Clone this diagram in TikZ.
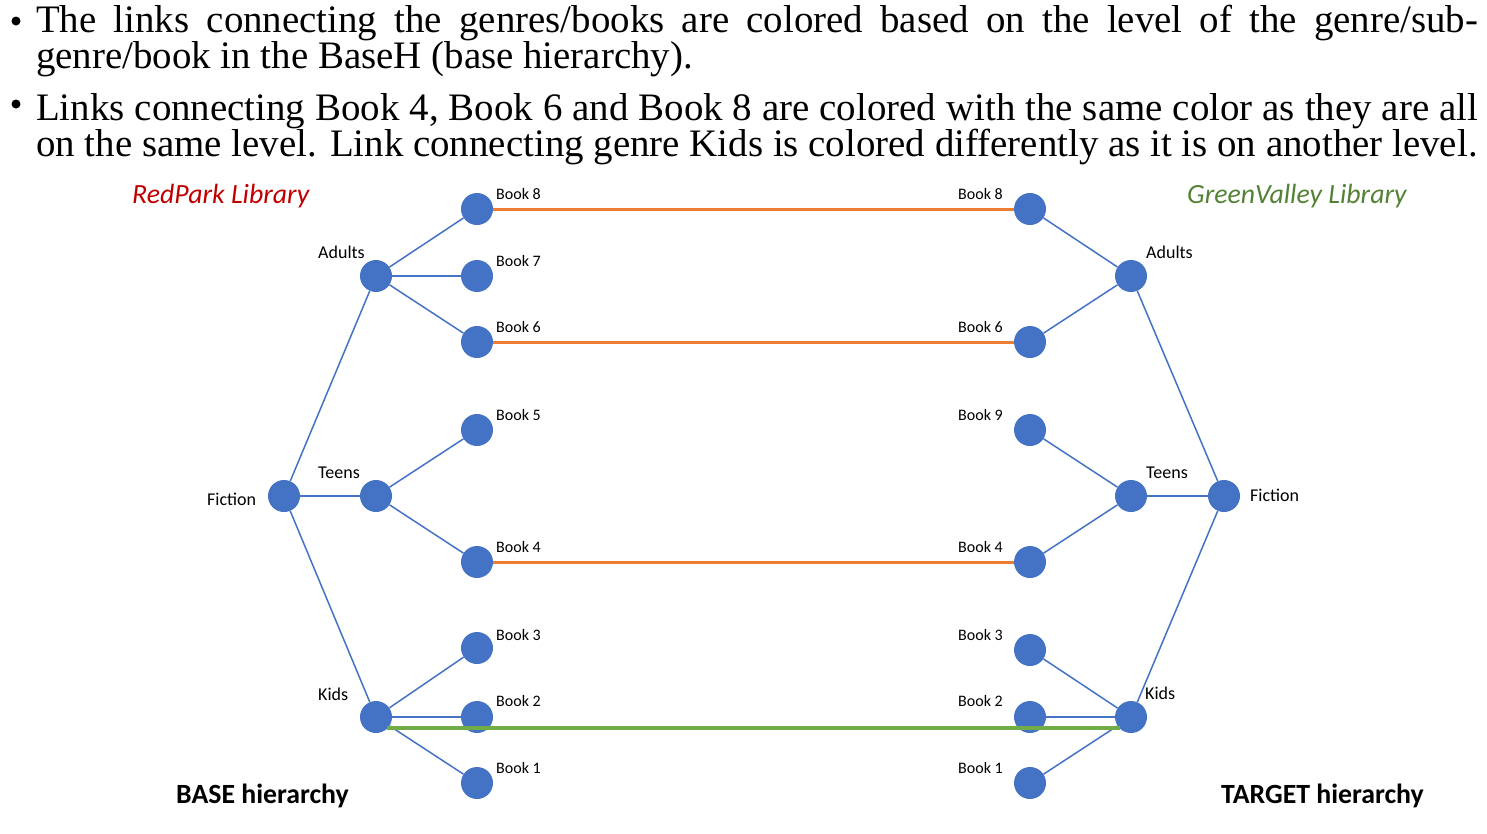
\documentclass[tikz,border=0pt]{standalone}
\usepackage{fontspec}
\setmainfont{Liberation Serif}
\newfontfamily\calibri{Carlito}
\usetikzlibrary{positioning}
\definecolor{nodeblue}{HTML}{4472C4}
\definecolor{linkorange}{HTML}{ED7D31}
\definecolor{linkgreen}{HTML}{70AD47}
\definecolor{redpark}{HTML}{C00000}
\definecolor{greenvalley}{HTML}{548235}

\begin{document}
\begin{tikzpicture}[x=1pt, y=-1pt,
    vert/.style={circle, fill=nodeblue, minimum size=32pt, inner sep=0pt},
    treelink/.style={nodeblue, line width=1.5pt},
    samelvl/.style={linkorange, line width=3pt},
    otherlvl/.style={linkgreen, line width=4pt},
    booklbl/.style={font=\calibri\fontsize{16}{19}\selectfont, inner sep=0pt},
    genrelbl/.style={font=\calibri\fontsize{18}{22}\selectfont, inner sep=0pt},
    libname/.style={font=\calibri\itshape\fontsize{27.8}{32}\selectfont, inner sep=0pt},
    hiername/.style={font=\calibri\bfseries\fontsize{27.8}{32}\selectfont, inner sep=0pt},
    note/.style={font=\fontsize{38.9}{36}\selectfont, inner sep=0pt, align=left, anchor=north west},
    bul/.style={circle, fill=black, minimum size=9pt, inner sep=0pt}]
    \useasboundingbox (0,0) rectangle (1487,833);

    \node[bul] (dot1) at (16,21) {};
    \node[note] (note1) at (36,5.4) {\makebox[1442pt][s]{The links connecting the genres/books are colored based on the level of the genre/sub-}\\genre/book in the BaseH (base hierarchy).};
    \node[bul] (dot2) at (16,104) {};
    \node[note] (note2) at (36,93.4) {\makebox[1442pt][s]{Links connecting Book 4, Book 6 and Book 8 are colored with the same color as they are all}\\on the same level. Link connecting genre Kids is colored differently as it is on another level.};

    \node[libname, text=redpark, anchor=base west] (redlib) at (132,203) {RedPark Library};
    \node[libname, text=greenvalley, anchor=base west] (greenlib) at (1187,203) {GreenValley Library};
    \node[hiername, anchor=base west] (basetxt) at (176,803) {BASE hierarchy};
    \node[hiername, anchor=base west] (targettxt) at (1221,803) {TARGET hierarchy};

    \node[vert] (fictL) at (284,496) {};
    \node[vert] (adultsL) at (376,276) {};
    \node[vert] (teensL) at (376,496) {};
    \node[vert] (kidsL) at (376,717) {};
    \node[vert] (bL8) at (477,209) {};
    \node[vert] (bL7) at (477,276) {};
    \node[vert] (bL6) at (477,342) {};
    \node[vert] (bL5) at (477,430) {};
    \node[vert] (bL4) at (477,562) {};
    \node[vert] (bL3) at (477,648) {};
    \node[vert] (bL2) at (477,717) {};
    \node[vert] (bL1) at (477,783) {};

    \node[vert] (bR8) at (1030,209) {};
    \node[vert] (bR6) at (1030,342) {};
    \node[vert] (bR9) at (1030,430) {};
    \node[vert] (bR4) at (1030,562) {};
    \node[vert] (bR3) at (1030,650) {};
    \node[vert] (bR2) at (1030,717) {};
    \node[vert] (bR1) at (1030,783) {};
    \node[vert] (adultsR) at (1131,276) {};
    \node[vert] (teensR) at (1131,496) {};
    \node[vert] (kidsR) at (1131,717) {};
    \node[vert] (fictR) at (1224,496) {};

    \node[genrelbl, anchor=base west] (fictLtxt) at (207,505) {Fiction};
    \node[genrelbl, anchor=base west] (adultsLtxt) at (318,258) {Adults};
    \node[genrelbl, anchor=base west] (teensLtxt) at (318,478) {Teens};
    \node[genrelbl, anchor=base west] (kidsLtxt) at (318,700) {Kids};
    \node[booklbl, anchor=base west] (bL8txt) at (496,199) {Book 8};
    \node[booklbl, anchor=base west] (bL7txt) at (496,266) {Book 7};
    \node[booklbl, anchor=base west] (bL6txt) at (496,332) {Book 6};
    \node[booklbl, anchor=base west] (bL5txt) at (496,420) {Book 5};
    \node[booklbl, anchor=base west] (bL4txt) at (496,552) {Book 4};
    \node[booklbl, anchor=base west] (bL3txt) at (496,640) {Book 3};
    \node[booklbl, anchor=base west] (bL2txt) at (496,706) {Book 2};
    \node[booklbl, anchor=base west] (bL1txt) at (496,773) {Book 1};

    \node[booklbl, anchor=base east] (bR8txt) at (1003,199) {Book 8};
    \node[booklbl, anchor=base east] (bR6txt) at (1003,332) {Book 6};
    \node[booklbl, anchor=base east] (bR9txt) at (1003,420) {Book 9};
    \node[booklbl, anchor=base east] (bR4txt) at (1003,552) {Book 4};
    \node[booklbl, anchor=base east] (bR3txt) at (1003,640) {Book 3};
    \node[booklbl, anchor=base east] (bR2txt) at (1003,706) {Book 2};
    \node[booklbl, anchor=base east] (bR1txt) at (1003,773) {Book 1};
    \node[genrelbl, anchor=base west] (adultsRtxt) at (1146,258) {Adults};
    \node[genrelbl, anchor=base west] (teensRtxt) at (1146,478) {Teens};
    \node[genrelbl, anchor=base west] (kidsRtxt) at (1145,699) {Kids};
    \node[genrelbl, anchor=base west] (fictRtxt) at (1250,501) {Fiction};

    \draw[treelink] (fictL) -- (adultsL);
    \draw[treelink] (fictL) -- (teensL);
    \draw[treelink] (fictL) -- (kidsL);
    \draw[treelink] (adultsL) -- (bL8);
    \draw[treelink] (adultsL) -- (bL7);
    \draw[treelink] (adultsL) -- (bL6);
    \draw[treelink] (teensL) -- (bL5);
    \draw[treelink] (teensL) -- (bL4);
    \draw[treelink] (kidsL) -- (bL3);
    \draw[treelink] (kidsL) -- (bL2);
    \draw[treelink] (kidsL) -- (bL1);

    \draw[treelink] (fictR) -- (adultsR);
    \draw[treelink] (fictR) -- (teensR);
    \draw[treelink] (fictR) -- (kidsR);
    \draw[treelink] (adultsR) -- (bR8);
    \draw[treelink] (adultsR) -- (bR6);
    \draw[treelink] (teensR) -- (bR9);
    \draw[treelink] (teensR) -- (bR4);
    \draw[treelink] (kidsR) -- (bR3);
    \draw[treelink] (kidsR) -- (bR2);
    \draw[treelink] (kidsR) -- (bR1);

    \draw[samelvl] (bL8) -- (bR8);
    \draw[samelvl] (bL6) -- (bR6);
    \draw[samelvl] (bL4) -- (bR4);
    \draw[otherlvl] (kidsL.south east) -- (kidsR.south west);
\end{tikzpicture}
\end{document}
